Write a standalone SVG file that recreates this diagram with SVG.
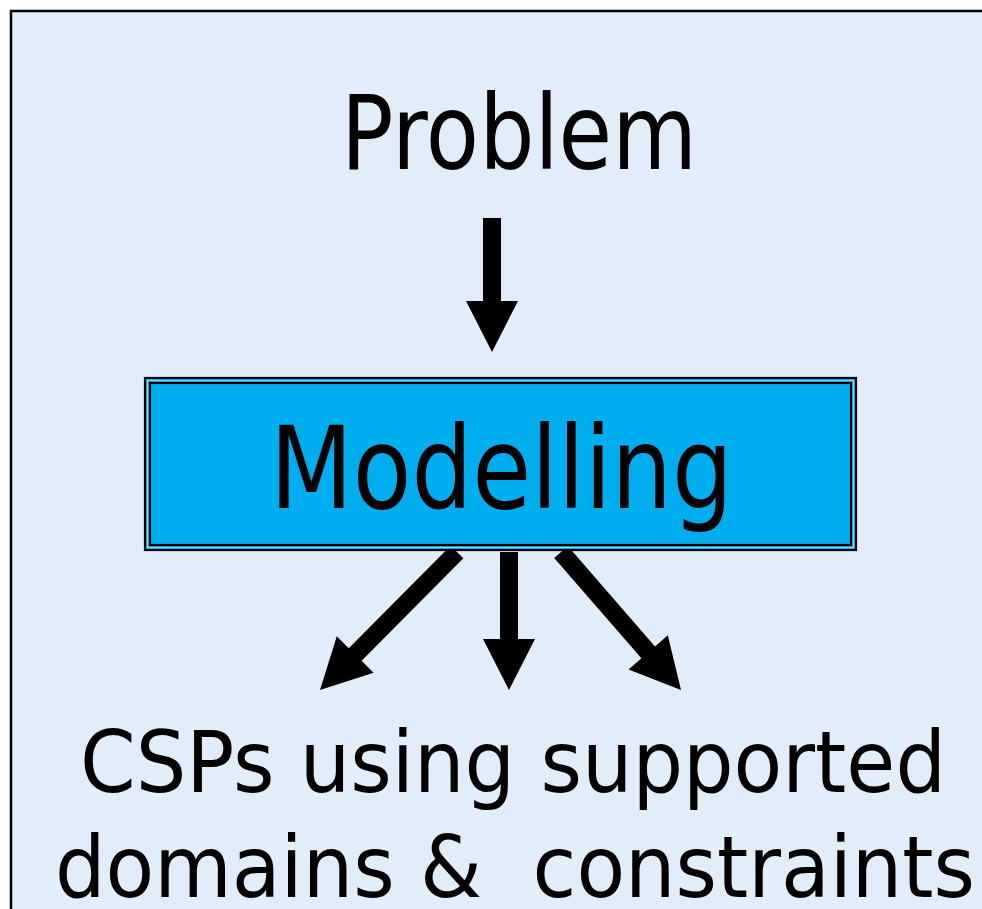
<svg xmlns="http://www.w3.org/2000/svg" width="982" height="909" viewBox="0 0 982 909">
<style>
.lbl{font-family:"DejaVu Sans","Verdana",sans-serif;fill:#000;}
.arr{fill:#000;stroke:none;}
</style>
<rect x="0" y="0" width="982" height="909" fill="#ffffff"/>
<rect x="11" y="11" width="990" height="920" fill="#E1EEF9" stroke="#000" stroke-width="2.5"/>
<g id="connectors">
<polygon class="arr" points="483,218 501,218 501,301 518,301 492,352 466,301 483,301"/>
<polygon class="arr" points="500,552 518,552 518,639 535,639 509,690 483,639 500,639"/>
<polygon class="arr" points="463.4,558.3 450.6,545.7 348.8,648.2 336.8,636.2 320,690 373.6,672.8 361.6,660.8"/>
<polygon class="arr" points="567.8,546.1 554.2,557.9 641.4,658.2 628.6,669.4 681,690 667.8,635.2 655,646.4"/>
</g>
<g id="problem">
<text class="lbl" x="341" y="169" font-size="104" textLength="356" lengthAdjust="spacingAndGlyphs">Problem</text>
</g>
<g id="modelling">
<rect x="145" y="378" width="711" height="172" fill="#00AEEF" stroke="#000" stroke-width="2.2"/>
<rect x="147.5" y="380.5" width="706" height="167" fill="none" stroke="#8fdcf8" stroke-width="1.2"/>
<rect x="150" y="383" width="701" height="162" fill="none" stroke="#000" stroke-width="2.2"/>
<text class="lbl" x="270" y="508" font-size="114" textLength="463" lengthAdjust="spacingAndGlyphs">Modelling</text>
</g>
<g id="csps">
<text class="lbl" x="80" y="792" font-size="86" textLength="866" lengthAdjust="spacingAndGlyphs">CSPs using supported</text>
<text class="lbl" x="55" y="897" font-size="86" textLength="920" lengthAdjust="spacingAndGlyphs" xml:space="preserve">domains &amp;  constraints</text>
</g>
</svg>
